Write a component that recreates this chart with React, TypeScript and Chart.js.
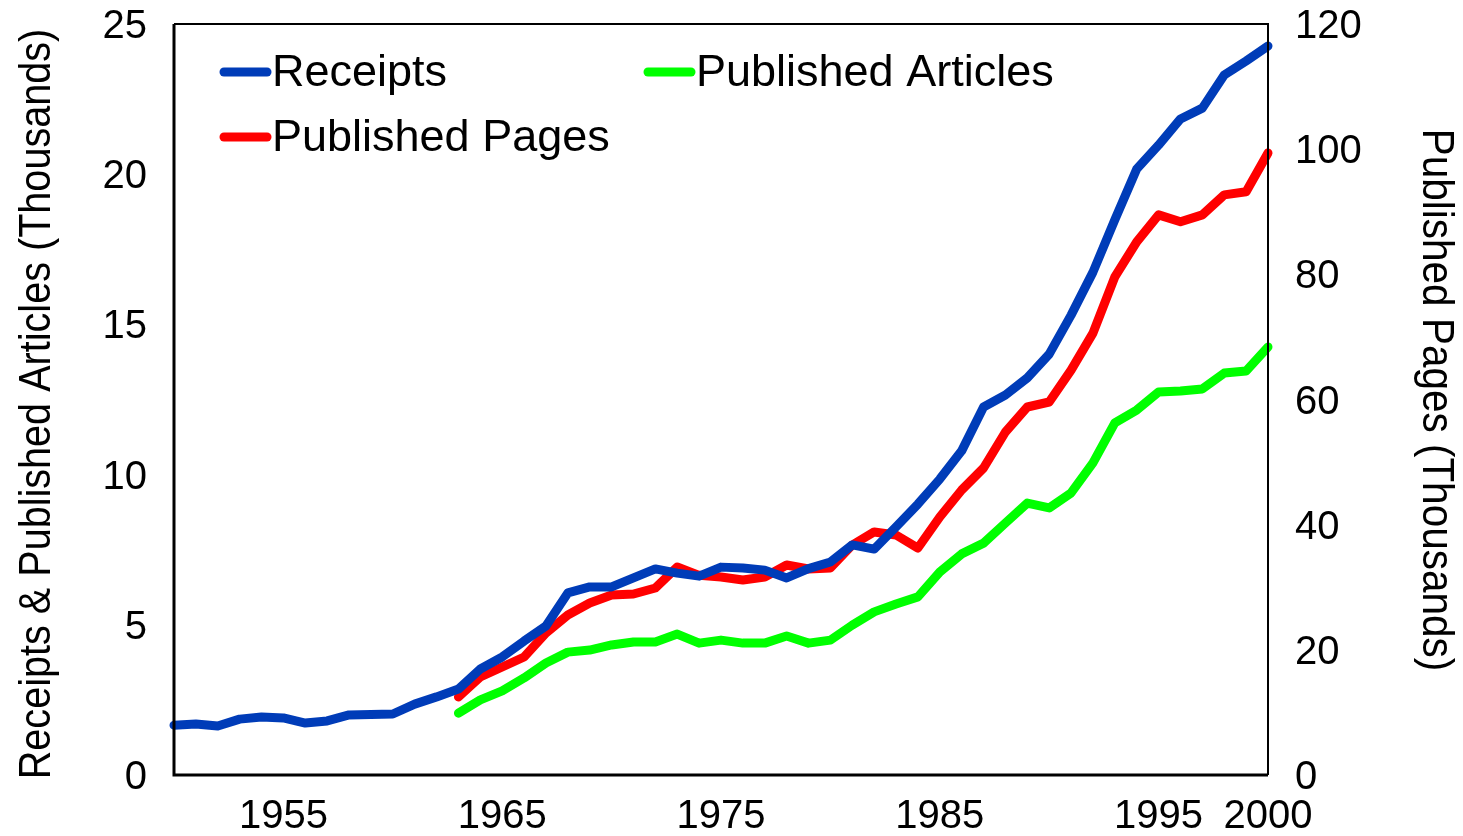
import React, { useEffect, useRef } from "react";
import { Chart, registerables } from "chart.js";

Chart.register(...registerables);

const FIRST_YEAR = 1950;
const PUB_START = 1963;
const xTickYears = [1955, 1965, 1975, 1985, 1995, 2000];
const leftTicks = [0, 5, 10, 15, 20, 25];
const rightTicks = [0, 20, 40, 60, 80, 100, 120];

const receipts = [1.66, 1.7, 1.63, 1.86, 1.93, 1.9, 1.73, 1.8, 2.0, 2.01, 2.03, 2.36, 2.6, 2.86, 3.53, 3.93, 4.46, 4.96, 6.06, 6.26, 6.26, 6.56, 6.86, 6.72, 6.62, 6.92, 6.89, 6.82, 6.56, 6.87, 7.09, 7.66, 7.52, 8.26, 9.02, 9.85, 10.79, 12.25, 12.65, 13.22, 14.01, 15.31, 16.74, 18.48, 20.17, 20.97, 21.84, 22.2, 23.3, 23.77, 24.27];
const publishedPages = [12.46, 15.66, 17.26, 18.86, 22.69, 25.57, 27.48, 28.76, 28.92, 29.88, 33.24, 31.9, 31.64, 31.16, 31.64, 33.56, 32.92, 33.08, 36.75, 38.83, 38.35, 36.27, 41.23, 45.54, 49.06, 54.81, 58.8, 59.6, 64.7, 70.6, 79.6, 85.2, 89.5, 88.4, 89.5, 92.7, 93.2, 99.4];
const publishedArticles = [2.06, 2.5, 2.8, 3.23, 3.73, 4.09, 4.16, 4.33, 4.43, 4.43, 4.69, 4.39, 4.49, 4.39, 4.39, 4.63, 4.39, 4.49, 4.99, 5.43, 5.69, 5.93, 6.76, 7.36, 7.72, 8.39, 9.05, 8.89, 9.39, 10.39, 11.72, 12.15, 12.75, 12.78, 12.85, 13.38, 13.45, 14.25];

const BLUE = "#003CB8";
const RED = "#FF0000";
const GREEN = "#00FF00";
const FONT = "'Liberation Sans', Arial, sans-serif";

const toPoints = (vals: number[], start: number) => vals.map((v, i) => ({ x: start + i, y: v }));

const frameAndText = {
  id: "frameAndText",
  afterDraw(chart: any) {
    const { ctx, chartArea: a } = chart;
    ctx.save();
    // plot frame
    ctx.strokeStyle = "#000";
    ctx.lineCap = "butt";
    ctx.lineWidth = 2;
    ctx.beginPath();
    ctx.moveTo(a.left, a.top);
    ctx.lineTo(a.right, a.top);
    ctx.lineTo(a.right, a.bottom);
    ctx.stroke();
    ctx.lineWidth = 3;
    ctx.beginPath();
    ctx.moveTo(a.left, a.top);
    ctx.lineTo(a.left, a.bottom);
    ctx.lineTo(a.right, a.bottom);
    ctx.stroke();

    // legend
    const items = [
      { label: "Receipts", color: BLUE, x: 224, y: 72 },
      { label: "Published Articles", color: GREEN, x: 648, y: 72 },
      { label: "Published Pages", color: RED, x: 224, y: 137 },
    ];
    ctx.font = `45px ${FONT}`;
    ctx.textBaseline = "middle";
    ctx.textAlign = "left";
    items.forEach((it) => {
      ctx.strokeStyle = it.color;
      ctx.lineWidth = 9;
      ctx.lineCap = "round";
      ctx.beginPath();
      ctx.moveTo(it.x, it.y);
      ctx.lineTo(it.x + 43, it.y);
      ctx.stroke();
      ctx.fillStyle = "#000";
      ctx.fillText(it.label, it.x + 48, it.y + 2);
    });

    // axis titles (slightly condensed)
    ctx.fillStyle = "#000";
    ctx.textAlign = "center";
    ctx.textBaseline = "alphabetic";
    ctx.font = `44px ${FONT}`;
    ctx.save();
    ctx.translate(50, 404);
    ctx.rotate(-Math.PI / 2);
    ctx.scale(0.9, 1);
    ctx.fillText("Receipts & Published Articles (Thousands)", 0, 0);
    ctx.restore();

    ctx.save();
    ctx.translate(1423, 400);
    ctx.rotate(Math.PI / 2);
    ctx.scale(0.92, 1);
    ctx.fillText("Published Pages (Thousands)", 0, 0);
    ctx.restore();

    ctx.restore();
  },
};

export default function App() {
  const ref = useRef<HTMLCanvasElement>(null);

  useEffect(() => {
    if (!ref.current) return;
    const tickFont = { family: FONT, size: 40 };
    const fixV = (w: number) => (s: any) => {
      s.width = w;
      s.paddingTop = 24;
      s.paddingBottom = 0;
    };
    const chart = new Chart(ref.current, {
      type: "line",
      data: {
        datasets: [
          {
            label: "Receipts",
            data: toPoints(receipts, FIRST_YEAR),
            borderColor: BLUE,
            yAxisID: "y",
          },
          {
            label: "Published Pages",
            data: toPoints(publishedPages, PUB_START),
            borderColor: RED,
            yAxisID: "y1",
          },
          {
            label: "Published Articles",
            data: toPoints(publishedArticles, PUB_START),
            borderColor: GREEN,
            yAxisID: "y",
          },
        ].map((d) => ({
          ...d,
          borderWidth: 9,
          pointRadius: 0,
          tension: 0,
          fill: false,
          borderCapStyle: "round",
          borderJoinStyle: "round",
          clip: false,
        })) as any,
      },
      options: {
        animation: false,
        responsive: true,
        maintainAspectRatio: false,
        layout: { padding: 0 },
        plugins: { legend: { display: false }, tooltip: { enabled: false } },
        scales: {
          x: {
            type: "linear",
            min: 1950,
            max: 2000,
            grid: { display: false, drawTicks: false },
            border: { display: false },
            afterBuildTicks: (s: any) => {
              s.ticks = xTickYears.map((v) => ({ value: v }));
            },
            afterFit: (s: any) => {
              s.height = 61;
              s.paddingLeft = 0;
              s.paddingRight = 0;
            },
            ticks: {
              autoSkip: false,
              maxRotation: 0,
              minRotation: 0,
              padding: 18,
              color: "#000",
              font: tickFont,
              callback: (v: any) => String(v),
            },
          },
          y: {
            type: "linear",
            position: "left",
            min: 0,
            max: 25,
            grid: { display: false, drawTicks: false },
            border: { display: false },
            afterBuildTicks: (s: any) => {
              s.ticks = leftTicks.map((v) => ({ value: v }));
            },
            afterFit: fixV(174),
            ticks: { padding: 27, labelOffset: 3, color: "#000", font: tickFont },
          },
          y1: {
            type: "linear",
            position: "right",
            min: 0,
            max: 120,
            grid: { display: false, drawTicks: false },
            border: { display: false },
            afterBuildTicks: (s: any) => {
              s.ticks = rightTicks.map((v) => ({ value: v }));
            },
            afterFit: fixV(195),
            ticks: { padding: 27, labelOffset: 3, color: "#000", font: tickFont },
          },
        },
      } as any,
      plugins: [frameAndText],
    });
    return () => chart.destroy();
  }, []);

  return (
    <div style={{ position: "fixed", left: 0, top: 0, width: 1463, height: 836, background: "#fff" }}>
      <canvas ref={ref} />
    </div>
  );
}
